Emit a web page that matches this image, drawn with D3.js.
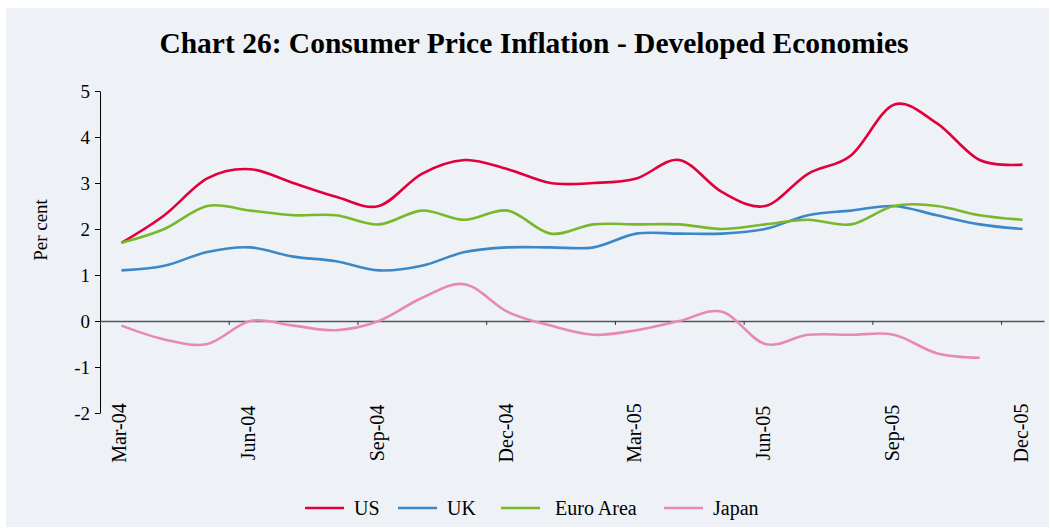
<!DOCTYPE html>
<html>
<head>
<meta charset="utf-8">
<script src="https://cdn.jsdelivr.net/npm/d3@7"></script>
<style>
  body { margin: 0; background: #ffffff; }
  svg text { font-family: "Liberation Serif", "Times New Roman", serif; fill: #000; }
</style>
</head>
<body>
<div class="chart"></div>
<script>
// months on the category axis
const months = ["Mar-04","Apr-04","May-04","Jun-04","Jul-04","Aug-04","Sep-04","Oct-04","Nov-04","Dec-04",
    "Jan-05","Feb-05","Mar-05","Apr-05","May-05","Jun-05","Jul-05","Aug-05","Sep-05","Oct-05","Nov-05","Dec-05"];

// year-on-year CPI inflation, per cent
const us    = [1.7, 2.3, 3.1, 3.3, 3.0, 2.7, 2.5, 3.2, 3.5, 3.3, 3.0, 3.0, 3.1, 3.5, 2.8, 2.5, 3.2, 3.6, 4.7, 4.3, 3.5, 3.4];
const uk    = [1.1, 1.2, 1.5, 1.6, 1.4, 1.3, 1.1, 1.2, 1.5, 1.6, 1.6, 1.6, 1.9, 1.9, 1.9, 2.0, 2.3, 2.4, 2.5, 2.3, 2.1, 2.0];
const euro  = [1.7, 2.0, 2.5, 2.4, 2.3, 2.3, 2.1, 2.4, 2.2, 2.4, 1.9, 2.1, 2.1, 2.1, 2.0, 2.1, 2.2, 2.1, 2.5, 2.5, 2.3, 2.2];
const japan = [-0.1, -0.4, -0.5, 0.0, -0.1, -0.2, 0.0, 0.5, 0.8, 0.2, -0.1, -0.3, -0.2, 0.0, 0.2, -0.5, -0.3, -0.3, -0.3, -0.7, -0.8, null];

const seriesNames = ["US", "UK", "Euro Area", "Japan"];
const yTicks = [-2, -1, 0, 1, 2, 3, 4, 5];

const series = [
    {name: "US", values: us, color: "#e2003c"},
    {name: "UK", values: uk, color: "#3b87c8"},
    {name: "Euro Area", values: euro, color: "#79b82a"},
    {name: "Japan", values: japan, color: "#e78ab3"}
];

const W = 1050, H = 528;
const plot = {left: 100, right: 1044, top: 91, bottom: 413};

const svg = d3.select(".chart")
    .append("svg")
    .attr("width", W)
    .attr("height", H);

// panel background
svg.append("rect")
    .attr("x", 6).attr("y", 8)
    .attr("width", 1043).attr("height", 519)
    .attr("fill", "#eef2f6");

// title
svg.append("text")
    .attr("x", 534)
    .attr("y", 53)
    .attr("text-anchor", "middle")
    .attr("font-size", 29.5)
    .attr("font-weight", "bold")
    .text("Chart 26: Consumer Price Inflation - Developed Economies");

// scales: linear over category slots so ticks fall between months
const xIdx = d3.scaleLinear()
    .domain([0, months.length])
    .range([plot.left, plot.right]);

const yScale = d3.scaleLinear()
    .domain([-2, 5])
    .range([plot.bottom, plot.top]);

// y axis
const yAxis = d3.axisLeft(yScale)
    .tickValues(yTicks)
    .tickSize(5)
    .tickSizeOuter(0)
    .tickPadding(5)
    .tickFormat(d => String(d));

const yAxisGroup = svg.append("g")
    .attr("class", "axis y-axis")
    .attr("transform", `translate(${plot.left},0)`)
    .call(yAxis);
yAxisGroup.selectAll("text")
    .attr("font-size", 19)
    .attr("font-family", "Liberation Serif");
yAxisGroup.selectAll("line, path").attr("stroke", "#000");

// x axis on the zero line
const xAxis = d3.axisBottom(xIdx)
    .tickValues(d3.range(0, months.length, 3))
    .tickSize(4)
    .tickSizeOuter(0)
    .tickFormat("");

const xAxisGroup = svg.append("g")
    .attr("class", "axis x-axis")
    .attr("transform", `translate(0,${yScale(0)})`)
    .call(xAxis);
xAxisGroup.select(".domain").attr("stroke", "#555").attr("stroke-width", 1.6);
xAxisGroup.selectAll(".tick line").attr("stroke", "#333");

// month labels, every third month, rotated
svg.append("g")
    .selectAll("text")
    .data(months.filter((m, i) => i % 3 === 0))
    .enter()
    .append("text")
    .attr("transform", d => `translate(${xIdx(months.indexOf(d) + 0.5) + 5},433) rotate(-90)`)
    .attr("text-anchor", "middle")
    .attr("font-size", 20)
    .text(d => d);

// y label
svg.append("text")
    .attr("transform", "translate(47,230) rotate(-90)")
    .attr("text-anchor", "middle")
    .attr("font-size", 19)
    .text("Per cent");

// lines
const line = d3.line()
    .defined(d => d != null)
    .x((d, i) => xIdx(i + 0.5))
    .y(d => yScale(d))
    .curve(d3.curveCatmullRom.alpha(0));

svg.append("g")
    .selectAll("path")
    .data(series)
    .enter()
    .append("path")
    .attr("fill", "none")
    .attr("stroke", d => d.color)
    .attr("stroke-width", 2.6)
    .attr("stroke-linejoin", "round")
    .attr("d", d => line(d.values));

// legend
const legendX = [305, 398, 501, 664];
const legend = svg.append("g")
    .selectAll("g")
    .data(series)
    .enter()
    .append("g")
    .attr("transform", (d, i) => `translate(${legendX[i]},508)`);

legend.append("line")
    .attr("x1", 0).attr("x2", 39)
    .attr("stroke", d => d.color)
    .attr("stroke-width", 2.6);

legend.append("text")
    .attr("x", (d, i) => i === 2 ? 54 : 49)
    .attr("y", 7)
    .attr("font-size", 20)
    .text((d, i) => seriesNames[i]);
</script>
</body>
</html>
